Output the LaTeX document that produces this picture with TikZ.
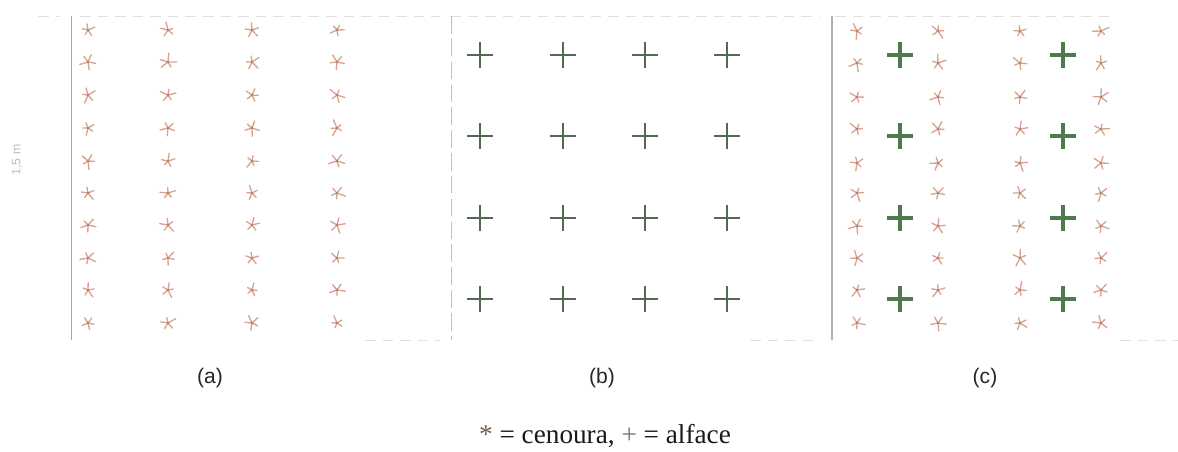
\documentclass[tikz,border=0pt]{standalone}
\usepackage{fontspec}
\setmainfont{Liberation Serif}
\setsansfont{Liberation Sans}
\begin{document}
\begin{tikzpicture}[x=0.02cm,y=-0.02cm,
  carrotline/.style={draw=carrotc,line width=0.75pt,line cap=round},
  lettuceline/.style={draw=lettucec,line width=1.3pt},
  lettucebold/.style={draw=lettucec2,line width=1.8pt},
  frameline/.style={draw=framec,line width=0.5pt},
  faintline/.style={draw=faintc,line width=0.4pt,dash pattern=on 6pt off 4pt},
  panellabel/.style={font=\sffamily\fontsize{12}{14}\selectfont,text=black!85},
  legendtext/.style={font=\fontsize{15.5}{18}\selectfont,text=black!90}]
\definecolor{carrotc}{HTML}{D9A28E}
\definecolor{lettucec}{HTML}{4F6B50}
\definecolor{lettucec2}{HTML}{4E7A4E}
\definecolor{framec}{HTML}{B8A0A0}
\definecolor{faintc}{HTML}{E0E0E0}
\useasboundingbox (0,0) rectangle (1178,451);
\fill[white] (0,0) rectangle (1178,451);
\pgfmathsetseed{11}
\newcommand{\carrotat}[2]{%
  \pgfmathsetmacro{\rr}{rnd*72}%
  \foreach \k in {0,...,4}{%
    \pgfmathsetmacro{\aa}{\rr+72*\k+rnd*20-10}%
    \pgfmathsetmacro{\ll}{5+rnd*4}%
    \draw[carrotline] (#1,#2) -- ++(\aa:\ll);}%
  \fill[carrotc!80!black] (#1,#2) circle (1.3);}
\newcommand{\lettuceat}[3]{%
  \draw[#3] (#1-13,#2) -- (#1+13,#2);
  \draw[#3] (#1,#2-13) -- (#1,#2+13);}
% frames
\draw[frameline] (71,16) -- (71,340);
\draw[faintline] (38,16) -- (60,16);
\draw[faintline] (80,16) -- (440,16);
\draw[faintline] (450,16) -- (820,16);
\draw[faintline] (835,16) -- (1110,16);
\draw[draw=black!25,line width=0.5pt,dash pattern=on 10pt off 3pt] (451,16) -- (451,340);
\draw[draw=black!30,line width=0.6pt] (832,16) -- (832,340);
\draw[faintline] (365,340) -- (440,340);
\draw[faintline] (750,340) -- (815,340);
\draw[faintline] (1120,340) -- (1178,340);
\node[rotate=90,font=\sffamily\fontsize{7}{8}\selectfont,text=black!25] (dim) at (17,160) {1,5 m};
% panel a
\foreach \x in {88,168,252,337}{
  \foreach \y in {30,62,95,128,161,193,225,258,290,323}{
    \carrotat{\x}{\y}}}
% panel b
\foreach \x in {480,563,645,727}{
  \foreach \y in {55,136,218,299}{
    \lettuceat{\x}{\y}{lettuceline}}}
% panel c
\foreach \x in {857,938,1020,1101}{
  \foreach \y in {31,63,97,129,163,193,226,258,290,323}{
    \carrotat{\x}{\y}}}
\foreach \x in {900,1063}{
  \foreach \y in {55,136,218,299}{
    \lettuceat{\x}{\y}{lettucebold}}}
% labels
\node[panellabel] (la) at (210,378) {(a)};
\node[panellabel] (lb) at (602,378) {(b)};
\node[panellabel] (lc) at (985,378) {(c)};
\node[legendtext] (leg) at (605,436) {\textcolor{carrotc!55!black}{*} = cenoura, \textcolor{black!55}{+} = alface};
\end{tikzpicture}
\end{document}
